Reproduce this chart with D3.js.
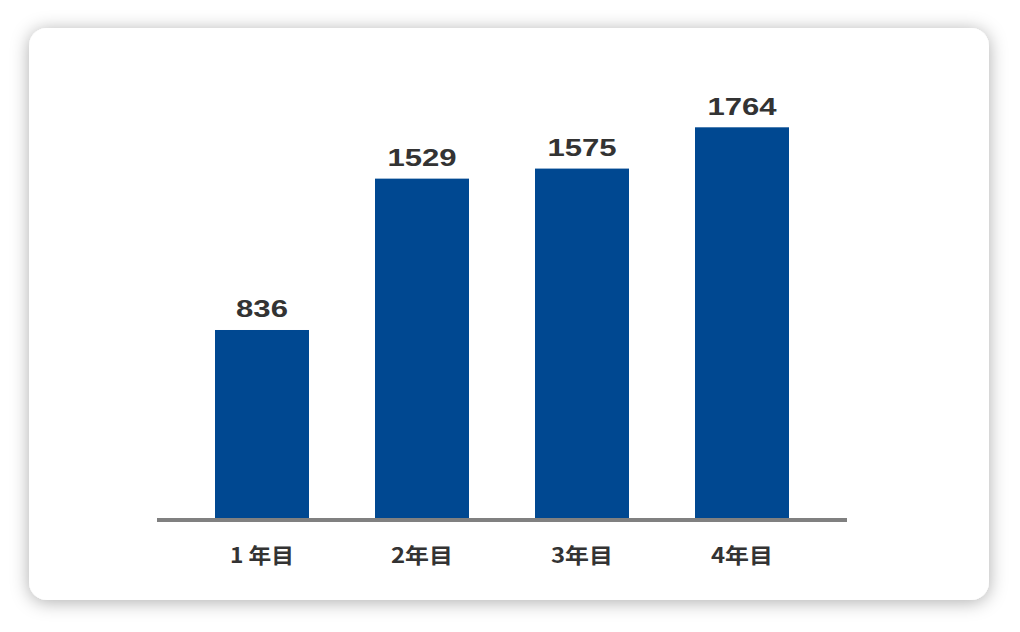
<!DOCTYPE html>
<html><head><meta charset="utf-8">
<script src="https://cdn.jsdelivr.net/npm/d3@7"></script>
<style>html,body{margin:0;padding:0;background:#fff;}svg{display:block;}</style>
</head><body>
<script>
const categories = ["1 年目", "2年目", "3年目", "4年目"];
const values = [836, 1529, 1575, 1764];
const valueLabels = ["836", "1529", "1575", "1764"];

const W = 1020, H = 632;
const svg = d3.select("body").append("svg").attr("width", W).attr("height", H);
const defs = svg.append("defs");
const f = defs.append("filter").attr("id", "sh").attr("x", "-10%").attr("y", "-10%").attr("width", "120%").attr("height", "120%");
f.append("feDropShadow").attr("dx", 0).attr("dy", 2).attr("stdDeviation", 9).attr("flood-color", "#000").attr("flood-opacity", 0.32);

svg.append("rect").attr("x", 29).attr("y", 28).attr("width", 960).attr("height", 572)
  .attr("rx", 18).attr("fill", "#fff").attr("filter", "url(#sh)");

const x = d3.scaleBand().domain(categories).range([182, 822]).paddingInner(0.4125).paddingOuter(0.20625);
const baseY = 518;
const y = d3.scaleLinear().domain([0, 1764]).range([512.6, 127.3]);

const g = svg.append("g");
g.selectAll("rect.bar").data(values).join("rect").attr("class", "bar")
  .attr("x", (d, i) => x(categories[i])).attr("width", x.bandwidth())
  .attr("y", d => y(d)).attr("height", d => baseY - y(d))
  .attr("fill", "#004891");

g.append("line").attr("x1", 157).attr("x2", 847).attr("y1", 520).attr("y2", 520)
  .attr("stroke", "#808080").attr("stroke-width", 4);

g.selectAll("text.val").data(values).join("text").attr("class", "val")
  .attr("x", (d, i) => x(categories[i]) + x.bandwidth() / 2)
  .attr("y", d => y(d) - 12.5)
  .attr("text-anchor", "middle")
  .attr("font-family", "'Liberation Sans', Arial, sans-serif")
  .attr("font-weight", "bold").attr("font-size", 24.5).attr("fill", "#333")
  .attr("textLength", (d, i) => valueLabels[i].length * 17.3)
  .attr("lengthAdjust", "spacingAndGlyphs")
  .text((d, i) => valueLabels[i]);

g.selectAll("text.cat").data(categories).join("text").attr("class", "cat")
  .attr("x", d => x(d) + x.bandwidth() / 2)
  .attr("y", 563)
  .attr("text-anchor", "middle")
  .attr("font-family", "'Noto Sans CJK JP', sans-serif")
  .attr("font-weight", "bold").attr("font-size", 21).attr("fill", "#333")
  .attr("textLength", d => d.includes(" ") ? 64 : 62)
  .attr("lengthAdjust", "spacingAndGlyphs")
  .text(d => d);
</script>
</body></html>
